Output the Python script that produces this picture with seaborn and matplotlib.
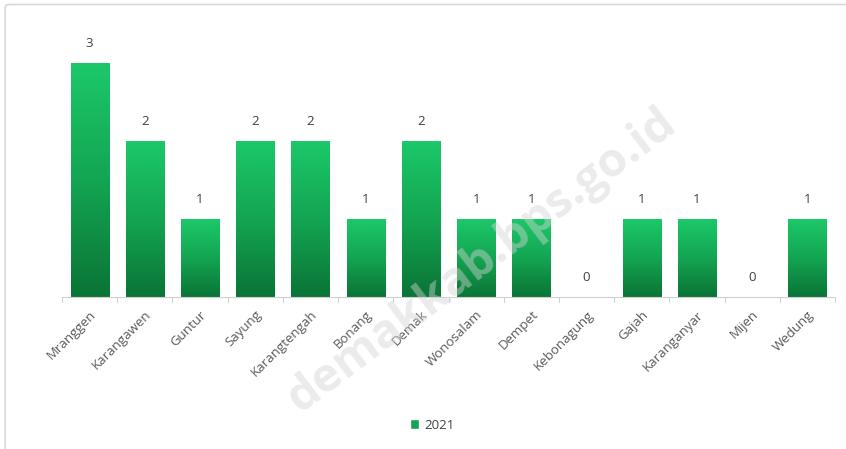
import numpy as np
import pandas as pd
import seaborn as sns
import matplotlib.pyplot as plt
from matplotlib.colors import LinearSegmentedColormap
from matplotlib.patches import FancyBboxPatch

# data
kecamatan = ['Mranggen', 'Karangawen', 'Guntur', 'Sayung', 'Karangtengah', 'Bonang',
             'Demak', 'Wonosalam', 'Dempet', 'Kebonagung', 'Gajah', 'Karanganyar',
             'Mijen', 'Wedung']
jumlah = [3, 2, 1, 2, 2, 1, 2, 1, 1, 0, 1, 1, 0, 1]
tahun = '2021'

df = pd.DataFrame({'kecamatan': kecamatan, 'jumlah': jumlah})

sns.set_style('white')
plt.rcParams['font.family'] = ['Open Sans', 'DejaVu Sans']

fig = plt.figure(figsize=(8.46, 4.49), dpi=100)
ax = fig.add_axes([0.0733, 0.3385, 0.9137, 0.5906])

sns.barplot(data=df, x='kecamatan', y='jumlah', color='#14b05a', width=0.69,
            ax=ax, label=tahun)

# vertical gradient on each bar
grad = LinearSegmentedColormap.from_list('g', ['#0a7436', '#14a552', '#1cc86a'])
ax.set_ylim(0, 3.4)
ax.set_xlim(-0.5, len(kecamatan) - 0.5)
for p in ax.patches:
    h = p.get_height()
    if h <= 0:
        continue
    x0 = p.get_x()
    w = p.get_width()
    img = ax.imshow(np.linspace(0, 1, 256).reshape(-1, 1), cmap=grad, origin='lower',
                    extent=[x0, x0 + w, 0, h], aspect='auto', zorder=p.get_zorder() + 0.1)
    img.set_clip_path(p)
ax.set_ylim(0, 3.4)
ax.set_xlim(-0.5, len(kecamatan) - 0.5)

# value labels
for i, v in enumerate(jumlah):
    ax.text(i, v + 0.17, str(v), ha='center', va='bottom', fontsize=9.5, color='#404040')

# axes styling
for s in ['top', 'right', 'left']:
    ax.spines[s].set_visible(False)
ax.spines['bottom'].set_color('#d0d0d0')
ax.set_yticks([])
ax.set_xlabel('')
ax.set_ylabel('')
ax.set_xticks(np.arange(len(kecamatan)))
ax.set_xticklabels(kecamatan, rotation=45, ha='right', rotation_mode='anchor',
                   fontsize=9.5, color='#595959')
ax.tick_params(axis='x', length=0, pad=8)
for b in np.arange(-0.5, len(kecamatan), 1):
    ax.plot([b, b], [0, -0.06], color='#d0d0d0', lw=0.8, clip_on=False)

# legend
ax.legend(loc='center', bbox_to_anchor=(0.479, -0.483), frameon=False,
          fontsize=9.5, handlelength=0.7, handleheight=0.7, handletextpad=0.4,
          labelcolor='#404040')
leg = ax.get_legend()
for h in leg.legend_handles:
    h.set_facecolor('#14a552')

# chart border
border = FancyBboxPatch((0.006, -0.1), 1.2, 1.09, transform=fig.transFigure,
                        boxstyle='round,pad=0,rounding_size=0.006',
                        fill=False, ec='#d9d9d9', lw=1.2)
fig.patches.append(border)

# watermark
fig.text(0.57, 0.42, 'demakkab.bps.go.id', rotation=37, fontsize=34, fontweight='bold',
         color='#d4d4d4', alpha=0.45, ha='center', va='center', zorder=10)

fig.savefig('out.png', dpi=100)
